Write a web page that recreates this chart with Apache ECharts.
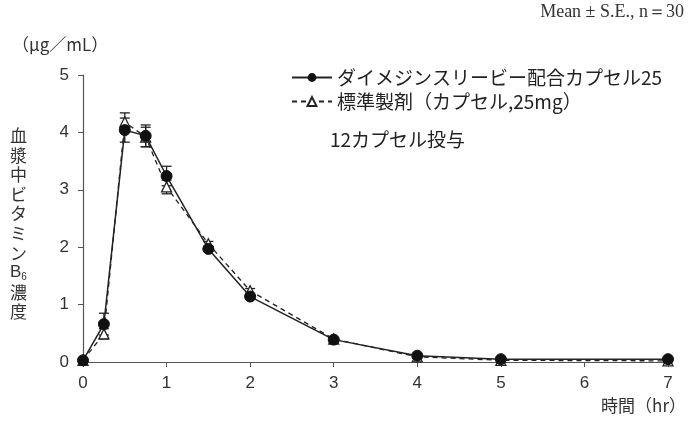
<!DOCTYPE html>
<html><head><meta charset="utf-8">
<script src="https://cdn.jsdelivr.net/npm/echarts@6/dist/echarts.min.js"></script>
<style>html,body{margin:0;padding:0;background:#fff}#c{width:689px;height:421px}</style>
</head><body><div id="c"></div>
<script>
var times = [0, 0.25, 0.5, 0.75, 1, 1.5, 2, 3, 4, 5, 7];
var testMean = [0.03, 0.66, 4.04, 3.94, 3.24, 1.97, 1.14, 0.39, 0.11, 0.05, 0.05];
var testSE   = [0.01, 0.19, 0.21, 0.19, 0.17, 0.04, 0.04, 0.02, 0.01, 0.01, 0.01];
var refMean  = [0.03, 0.49, 4.18, 3.92, 3.05, 2.06, 1.24, 0.40, 0.09, 0.03, 0.02];
var refSE    = [0.01, 0.09, 0.16, 0.17, 0.12, 0.04, 0.04, 0.02, 0.01, 0.01, 0.01];
var xTicks = [0, 1, 2, 3, 4, 5, 6, 7];
var yTicks = [0, 1, 2, 3, 4, 5];
var nameTest = 'ダイメジンスリービー配合カプセル25';
var nameRef = '標準製剤（カプセル,25mg）';

var font = 'Arial, "Liberation Sans", Helvetica, sans-serif';
var jfont = '"Noto Sans CJK JP", sans-serif';

function pairs(m){ return times.map(function(t,i){return [t, m[i]];}); }
function errs(m, s){ return times.map(function(t,i){return [t, m[i]-s[i], m[i]+s[i]];}); }

function errRender(params, api){
  var x = api.value(0), lo = api.value(1), hi = api.value(2);
  var p1 = api.coord([x, lo]), p2 = api.coord([x, hi]);
  var w = 5;
  var st = {stroke:'#222', lineWidth:1.3};
  return {type:'group', children:[
    {type:'line', shape:{x1:p1[0],y1:p1[1],x2:p2[0],y2:p2[1]}, style:st},
    {type:'line', shape:{x1:p1[0]-w,y1:p1[1],x2:p1[0]+w,y2:p1[1]}, style:st},
    {type:'line', shape:{x1:p2[0]-w,y1:p2[1],x2:p2[0]+w,y2:p2[1]}, style:st}
  ]};
}

var chart = echarts.init(document.getElementById('c'));
chart.setOption({
  animation:false,
  backgroundColor:'#fff',
  grid:{left:83, right:21, top:75, bottom:59},
  xAxis:{type:'value', min:0, max:7, interval:1,
    axisLine:{lineStyle:{color:'#555', width:1.2}},
    axisTick:{show:true, length:5, lineStyle:{color:'#555'}},
    splitLine:{show:false},
    axisLabel:{color:'#333', fontSize:17, fontFamily:font, margin:13,
      formatter:function(v){return xTicks.indexOf(v)>=0? String(v):'';}}
  },
  yAxis:{type:'value', min:0, max:5, interval:1,
    axisLine:{show:true, lineStyle:{color:'#555', width:1.2}},
    axisTick:{show:true, length:5, lineStyle:{color:'#555'}},
    splitLine:{show:false},
    axisLabel:{color:'#333', fontSize:17, fontFamily:font, margin:14,
      formatter:function(v){return yTicks.indexOf(v)>=0? String(v):'';}}
  },
  legend:{orient:'vertical', left:286, top:63, itemWidth:40, itemHeight:11, itemGap:5,
    textStyle:{fontSize:19, color:'#222', fontFamily:jfont},
    data:[nameTest, nameRef]},
  series:[
    {type:'custom', name:'refErr', renderItem:errRender, data:errs(refMean, refSE), z:2, silent:true},
    {type:'custom', name:'testErr', renderItem:errRender, data:errs(testMean, testSE), z:2, silent:true},
    {type:'line', name:nameRef, data:pairs(refMean), symbol:'triangle', symbolSize:10,
      lineStyle:{color:'#222', width:1.3, type:[5,4]},
      itemStyle:{color:'#fff', borderColor:'#222', borderWidth:1.3}, z:3},
    {type:'line', name:nameTest, data:pairs(testMean), symbol:'circle', symbolSize:11,
      lineStyle:{color:'#222', width:1.5},
      itemStyle:{color:'#111', borderColor:'#111'}, z:4}
  ],
  graphic:[
    {type:'text', left:12, top:36, style:{text:'（μg／mL）', fontSize:17, fill:'#333', fontFamily:jfont}},
    {type:'text', right:5, top:3, style:{text:'Mean ± S.E., n＝30', fontSize:18, fill:'#333', fontFamily:'"Liberation Serif", "DejaVu Serif", serif'}},
    {type:'text', left:330, top:130, style:{text:'12カプセル投与', fontSize:19, fill:'#222', fontFamily:jfont}},
    {type:'text', right:3, top:397, style:{text:'時間（hr）', fontSize:17, fill:'#333', fontFamily:jfont}},
    {type:'text', left:10, top:127, style:{
      text:'{a|血}\n{a|漿}\n{a|中}\n{a|ビ}\n{a|タ}\n{a|ミ}\n{a|ン}\n{b|B}{s|6}\n{a|濃}\n{a|度}',
      rich:{
        a:{fontSize:17, lineHeight:19.6, fill:'#333', fontFamily:jfont},
        b:{fontSize:17, lineHeight:19.6, fill:'#333', fontFamily:font},
        s:{fontSize:10, lineHeight:19.6, fill:'#333', fontFamily:font, verticalAlign:'bottom'}
      }}}
  ]
});
</script></body></html>
